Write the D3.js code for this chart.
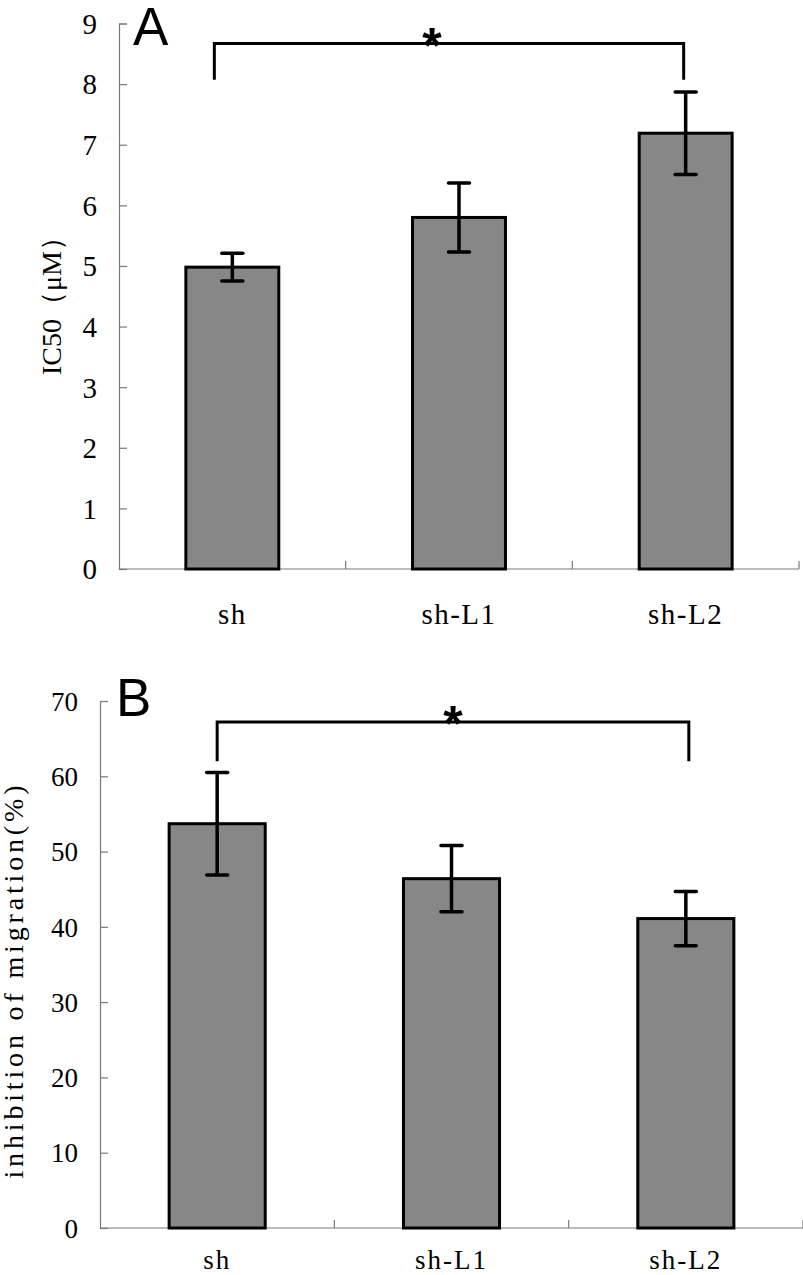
<!DOCTYPE html>
<html><head><meta charset="utf-8">
<script src="https://cdn.jsdelivr.net/npm/d3@7"></script>
<style>body{margin:0;background:#fff}svg{display:block}</style>
</head><body>
<svg id="c" width="803" height="1275"></svg>
<script>
const categories = ["sh", "sh-L1", "sh-L2"];
const ic50Mean = [4.98, 5.80, 7.19];
const ic50Err = [0.23, 0.57, 0.68];
const migrMean = [53.7, 46.4, 41.1];
const migrErr = [6.8, 4.4, 3.6];
const ic50Ticks = [0, 1, 2, 3, 4, 5, 6, 7, 8, 9];
const migrTicks = [0, 10, 20, 30, 40, 50, 60, 70];

const svg = d3.select("#c");
const serif = "'Liberation Serif', 'Times New Roman', serif";

function panel(o) {
  const g = svg.append("g");
  const x = d3.scaleBand().domain(categories).range([o.x0, o.x1]);
  const y = d3.scaleLinear().domain(o.domain).range([o.y0, o.y1]);
  const axisCol = "#7a7a7a";
  // y axis
  const ya = d3.axisLeft(y).tickValues(o.ticks).tickSize(-8).tickPadding(22).tickFormat(d3.format("d"));
  const yg = g.append("g").attr("transform", `translate(${o.x0},0)`).call(ya);
  yg.select(".domain").attr("stroke", axisCol).attr("stroke-width", 1.2);
  yg.selectAll(".tick line").attr("stroke", axisCol).attr("stroke-width", 1.2);
  yg.selectAll(".tick text").attr("font-family", serif).attr("font-size", o.fs).attr("fill", "#000")
    .attr("dy", "0.34em");
  // x axis
  const xg = g.append("g");
  xg.append("line").attr("x1", o.x0).attr("x2", o.x1).attr("y1", o.y0).attr("y2", o.y0)
    .attr("stroke", axisCol).attr("stroke-width", 1.2);
  categories.forEach(c => {
    const bx = x(c) + x.bandwidth();
    xg.append("line").attr("x1", bx).attr("x2", bx).attr("y1", o.y0).attr("y2", o.y0 - 8)
      .attr("stroke", axisCol).attr("stroke-width", 1.2);
  });
  xg.selectAll("text.xl").data(categories).join("text").attr("class", "xl")
    .attr("x", d => x(d) + x.bandwidth() / 2).attr("y", o.xly)
    .attr("text-anchor", "middle").attr("font-family", serif).attr("font-size", o.fs)
    .attr("letter-spacing", o.ls).text(d => d);
  // bars
  const bw = x.bandwidth() * 0.41;
  g.selectAll("rect.bar").data(categories).join("rect").attr("class", "bar")
    .attr("x", d => x(d) + x.bandwidth() / 2 - bw / 2)
    .attr("y", (d, i) => y(o.mean[i]))
    .attr("width", bw)
    .attr("height", (d, i) => y(0) - y(o.mean[i]))
    .attr("fill", "#878787").attr("stroke", "#000").attr("stroke-width", 3);
  // error bars
  const eb = g.selectAll("g.eb").data(categories).join("g").attr("class", "eb");
  eb.append("line")
    .attr("x1", d => x(d) + x.bandwidth() / 2).attr("x2", d => x(d) + x.bandwidth() / 2)
    .attr("y1", (d, i) => y(o.mean[i] + o.err[i])).attr("y2", (d, i) => y(o.mean[i] - o.err[i]))
    .attr("stroke", "#000").attr("stroke-width", 3.5);
  [1, -1].forEach(s => {
    eb.append("line")
      .attr("x1", d => x(d) + x.bandwidth() / 2 - 10.5).attr("x2", d => x(d) + x.bandwidth() / 2 + 10.5)
      .attr("y1", (d, i) => y(o.mean[i] + s * o.err[i])).attr("y2", (d, i) => y(o.mean[i] + s * o.err[i]))
      .attr("stroke", "#000").attr("stroke-width", 3.5).attr("stroke-linecap", "round");
  });
  // significance bracket
  const bxL = x(categories[0]) + x.bandwidth() / 2 + o.brOffL;
  const bxR = x(categories[2]) + x.bandwidth() / 2 + o.brOffR;
  const byT = y(o.brTop), byB = y(o.brBot);
  g.append("path").attr("d", `M${bxL},${byB}V${byT}H${bxR}V${byB}`)
    .attr("fill", "none").attr("stroke", "#000").attr("stroke-width", 3);
  g.append("text").attr("x", o.starX).attr("y", byT + 19).attr("text-anchor", "middle")
    .attr("font-family", "'Liberation Sans', Arial, sans-serif").attr("font-weight", "bold")
    .attr("font-size", 50).text("*");
  // panel letter
  g.append("text").attr("x", o.letX).attr("y", o.letY)
    .attr("font-family", "'Liberation Sans', Arial, sans-serif").attr("font-size", 53).text(o.letter);
  // y label
  const yl = g.append("text").attr("transform", `translate(${o.ylx},${o.yly}) rotate(-90)`)
    .attr("text-anchor", "middle").attr("font-family", serif).attr("font-size", o.ylfs)
    .text(o.ylabel);
  if (o.ylLen) yl.attr("textLength", o.ylLen).attr("lengthAdjust", "spacing");
  return {x, y};
}

panel({
  x0: 119, x1: 799, y0: 569, y1: 23.5, domain: [0, 9], ticks: ic50Ticks,
  mean: ic50Mean, err: ic50Err, fs: 29, ls: 1.5, xly: 624,
  brTop: 8.67, brBot: 8.07, brOffL: -18, brOffR: -2, starX: 432,
  letter: "A", letX: 133, letY: 45,
  ylabel: "IC50（μM）", ylx: 61, yly: 299, ylfs: 28, ylLen: null
});
panel({
  x0: 100, x1: 803, y0: 1228, y1: 701, domain: [0, 70], ticks: migrTicks,
  mean: migrMean, err: migrErr, fs: 27, ls: 2, xly: 1269,
  brTop: 67.2, brBot: 62.0, brOffL: 0, brOffR: 3, starX: 453,
  letter: "B", letX: 116, letY: 716,
  ylabel: "inhibition of migration(%)", ylx: 23, yly: 982, ylfs: 28, ylLen: 393
});
</script>
</body></html>
